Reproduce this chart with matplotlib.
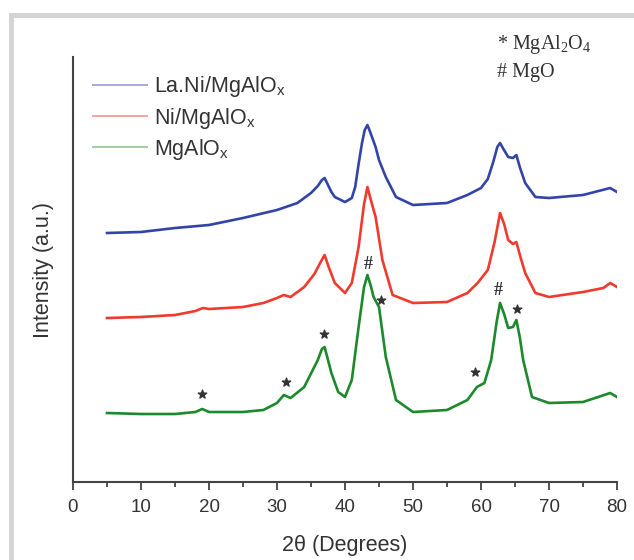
import matplotlib
matplotlib.use("Agg")
import matplotlib.pyplot as plt
from matplotlib.lines import Line2D
from matplotlib.patches import Rectangle

plt.rcParams['font.family'] = ['Liberation Sans', 'DejaVu Sans']

# XRD patterns (offset stacked, arbitrary units)
x_blue = [5, 10, 15, 20, 25, 30, 33, 35, 36, 36.6, 37, 37.5, 38, 38.5, 40, 41, 41.5, 42, 42.5, 42.9, 43.3,
          43.7, 44.5, 45, 46, 47.5, 50, 55, 58, 60, 61, 61.8, 62.4, 62.8, 63.3, 64, 64.7, 65.2, 65.7, 66.5,
          68, 70, 75, 79, 80]
y_blue = [249, 250, 254, 257, 264, 272, 279, 289, 296, 302, 304, 297, 290, 285, 280, 284, 295, 318, 339, 352, 357,
          350, 335, 322, 305, 285, 277, 279, 287, 294, 303, 320, 335, 339, 333, 325, 324, 327, 315, 299,
          285, 284, 287, 294, 290]

x_red = [5, 10, 15, 18, 19.1, 20, 25, 28, 30, 31, 32, 34, 35.5, 36.5, 37, 37.6, 38.5, 40, 41, 42, 42.8,
         43.3, 43.8, 44.5, 45.5, 47, 50, 55, 58, 59.5, 61, 62, 62.8, 63.4, 64, 64.7, 65.2, 65.8, 66.5,
         68, 70, 75, 78, 79, 80]
y_red = [164, 165, 167, 171, 174, 173, 175, 179, 184, 187, 185, 195, 208, 221, 227, 215, 199, 189, 199, 235, 278,
         295, 282, 265, 222, 187, 179, 180, 189, 199, 212, 240, 269, 258, 242, 238, 240, 225, 209,
         189, 185, 190, 194, 199, 195]

x_green = [5, 10, 15, 18, 19, 20, 25, 28, 30, 31, 32, 34, 36, 36.6, 37, 37.5, 38, 39, 40, 41, 42, 42.8,
           43.3, 43.8, 44.2, 45, 45.5, 46, 47.5, 50, 55, 58, 59.4, 60.5, 61.5, 62.3, 62.8, 63.4, 64, 64.7,
           65.2, 65.7, 66.2, 67.5, 70, 75, 79, 80]
y_green = [69, 68, 68, 70, 73, 70, 70, 72, 79, 87, 84, 95, 122, 133, 135, 122, 109, 90, 85, 102, 155, 195,
           207, 196, 185, 175, 150, 125, 82, 70, 72, 82, 95, 99, 122, 160, 179, 168, 154, 155,
           162, 145, 122, 85, 79, 80, 89, 85]

# phase markers on the MgAlOx pattern
star_x = [19.0, 31.3, 36.9, 45.3, 59.1, 65.3]
star_y = [88, 100, 148, 182, 110, 173]
hash_x = [43.4, 62.5]
hash_y = [218, 192]

labels = ['La.Ni/MgAlO$\\mathregular{_x}$', 'Ni/MgAlO$\\mathregular{_x}$', 'MgAlO$\\mathregular{_x}$']

fig = plt.figure(figsize=(6.34, 5.6), dpi=100)
ax = fig.add_axes([73 / 634, 78 / 560, 544 / 634, 425 / 560])

# grey frame from the page layout
fig.patches.append(Rectangle((10.5 / 634, -0.1), 1.2, 1.1 - 14.5 / 560, transform=fig.transFigure,
                             fill=False, edgecolor='#d4d4d4', linewidth=3.6, zorder=0))

ax.plot(x_blue, y_blue, color='#3344a8', lw=1.9)
ax.plot(x_red, y_red, color='#f03a2e', lw=1.9)
ax.plot(x_green, y_green, color='#1c8a2c', lw=1.9)

ax.scatter(star_x, star_y, marker='*', s=40, color='#333333', zorder=3)
for hx, hy in zip(hash_x, hash_y):
    ax.text(hx, hy, '#', ha='center', va='center', fontsize=13, fontweight='bold',
            color='#333333', family='Liberation Serif')

handles = [Line2D([], [], color=c, lw=1.4) for c in ['#a3aade', '#f6a49d', '#9ed09f']]
ax.legend(handles, labels, loc='upper left', bbox_to_anchor=(0.021, 0.98), frameon=False,
          fontsize=15.5, handlelength=2.5, handletextpad=0.35, labelspacing=0.3,
          labelcolor='#333333', borderaxespad=0)

ax.text(497 / 634, 1 - 45 / 560, '* MgAl$\\mathregular{_2}$O$\\mathregular{_4}$', transform=fig.transFigure,
        family='Liberation Serif', fontsize=14.5, color='#333333', va='center')
ax.text(497 / 634, 1 - 72 / 560, '# MgO', transform=fig.transFigure,
        family='Liberation Serif', fontsize=14.5, color='#333333', va='center')

ax.set_xlim(0, 80)
ax.set_ylim(0, 425)
ax.set_xticks(range(0, 81, 10))
ax.set_xticks(range(5, 80, 10), minor=True)
ax.set_yticks([])
for s in ['top', 'right']:
    ax.spines[s].set_visible(False)
for s in ['left', 'bottom']:
    ax.spines[s].set_color('#444444')
    ax.spines[s].set_linewidth(1.5)
ax.tick_params(axis='x', which='major', length=6, width=1.3, color='#444444', labelsize=13.5,
               labelcolor='#333333', pad=6)
ax.tick_params(axis='x', which='minor', length=3.5, width=1.3, color='#444444')

ax.set_xlabel('2θ (Degrees)', fontsize=15.5, color='#333333', labelpad=14)
ax.set_ylabel('Intensity (a.u.)', fontsize=15.5, color='#333333', labelpad=14)

fig.savefig('out.png', dpi=100)
